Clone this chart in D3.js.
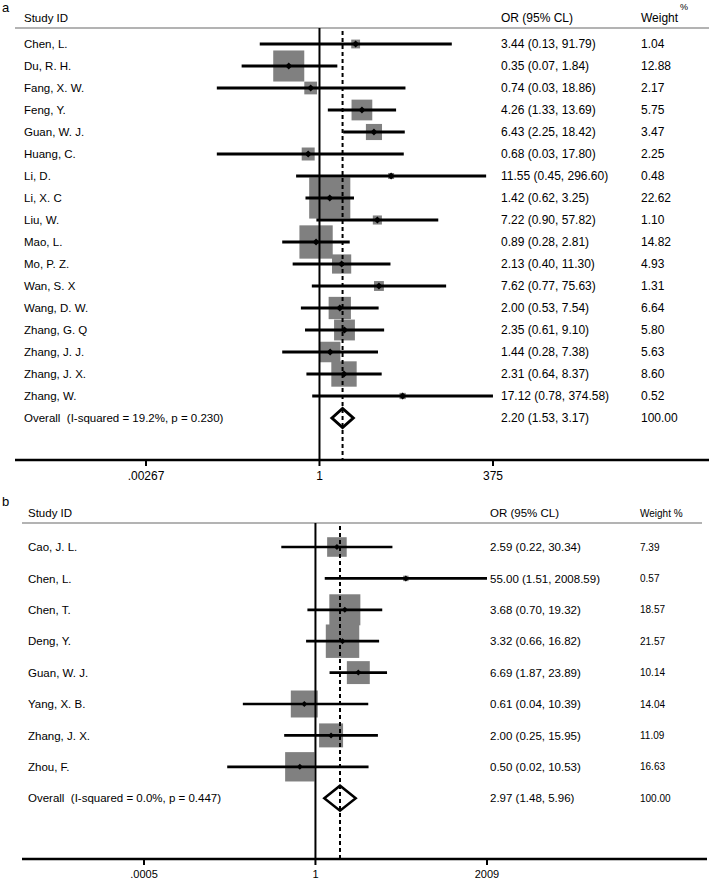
<!DOCTYPE html>
<html>
<head>
<meta charset="utf-8">
<script src="https://cdn.jsdelivr.net/npm/d3@7"></script>
<style>
  body { margin: 0; background: #fff; }
  text { font-family: "Liberation Sans", Arial, sans-serif; fill: #000; white-space: pre; }
</style>
</head>
<body>
<svg id="chart" width="709" height="880"></svg>
<script>
"use strict";

/* global d3 */

// panel a
var studiesA = ["Chen, L.", "Du, R. H.", "Fang, X. W.", "Feng, Y.", "Guan, W. J.", "Huang, C.",
    "Li, D.", "Li, X. C", "Liu, W.", "Mao, L.", "Mo, P. Z.", "Wan, S. X", "Wang, D. W.",
    "Zhang, G. Q", "Zhang, J. J.", "Zhang, J. X.", "Zhang, W."];
var orA    = [3.44, 0.35, 0.74, 4.26, 6.43, 0.68, 11.55, 1.42, 7.22, 0.89, 2.13, 7.62, 2.00, 2.35, 1.44, 2.31, 17.12];
var lowerA = [0.13, 0.07, 0.03, 1.33, 2.25, 0.03, 0.45, 0.62, 0.90, 0.28, 0.40, 0.77, 0.53, 0.61, 0.28, 0.64, 0.78];
var upperA = [91.79, 1.84, 18.86, 13.69, 18.42, 17.80, 296.60, 3.25, 57.82, 2.81, 11.30, 75.63, 7.54, 9.10, 7.38, 8.37, 374.58];
var weightA = [1.04, 12.88, 2.17, 5.75, 3.47, 2.25, 0.48, 22.62, 1.10, 14.82, 4.93, 1.31, 6.64, 5.80, 5.63, 8.60, 0.52];
var overallA = { label: "Overall  (I-squared = 19.2%, p = 0.230)", or: 2.20, lower: 1.53, upper: 3.17, weight: 100 };
var ticksA = [0.00267, 1, 375];
var tickLabelsA = [".00267", "1", "375"];

// panel b
var studiesB = ["Cao, J. L.", "Chen, L.", "Chen, T.", "Deng, Y.", "Guan, W. J.", "Yang, X. B.", "Zhang, J. X.", "Zhou, F."];
var orB    = [2.59, 55.00, 3.68, 3.32, 6.69, 0.61, 2.00, 0.50];
var lowerB = [0.22, 1.51, 0.70, 0.66, 1.87, 0.04, 0.25, 0.02];
var upperB = [30.34, 2008.59, 19.32, 16.82, 23.89, 10.39, 15.95, 10.53];
var weightB = [7.39, 0.57, 18.57, 21.57, 10.14, 14.04, 11.09, 16.63];
var overallB = { label: "Overall  (I-squared = 0.0%, p = 0.447)", or: 2.97, lower: 1.48, upper: 5.96, weight: 100 };
var ticksB = [0.0005, 1, 2009];
var tickLabelsB = [".0005", "1", "2009"];

var svg = d3.select("#chart");

function rows(names, or, lo, hi, w) {
    return names.map(function (n, i) {
        return { label: n, or: or[i], lower: lo[i], upper: hi[i], weight: w[i] };
    });
}

function ciText(d) {
    return d.or.toFixed(2) + " (" + d.lower.toFixed(2) + ", " + d.upper.toFixed(2) + ")";
}

function drawPanel(p) {
    var g = svg.append("g");
    var x = d3.scaleLog().domain([p.ticks[0], p.ticks[2]]).range(p.tickRange);
    var n = p.data.length;
    var y = function (i) { return p.rowTop + i * p.rowStep; };
    var yOverall = y(n);

    // letter and headers
    g.append("text").attr("x", 2).attr("y", p.letterY).style("font-size", "13px").text(p.letter);
    g.append("text").attr("x", p.labelX).attr("y", p.headY).style("font-size", p.font + "px").text("Study ID");
    g.append("text").attr("x", p.orX).attr("y", p.headY).style("font-size", p.orFont + "px").text("OR (95% CL)");
    p.weightHead(g);

    g.append("line")
        .attr("x1", p.lineX[0]).attr("x2", p.lineX[1])
        .attr("y1", p.headLine).attr("y2", p.headLine)
        .attr("stroke", "#9a9a9a").attr("stroke-width", 1.5);

    // weight boxes first, lines over them
    g.selectAll("rect.box").data(p.data).enter().append("rect")
        .attr("class", "box")
        .attr("x", function (d) { return x(d.or) - p.boxK * Math.sqrt(d.weight) / 2; })
        .attr("y", function (d, i) { return y(i) - p.boxK * Math.sqrt(d.weight) / 2; })
        .attr("width", function (d) { return p.boxK * Math.sqrt(d.weight); })
        .attr("height", function (d) { return p.boxK * Math.sqrt(d.weight); })
        .attr("fill", "#808080");

    // null line and overall dashed line
    g.append("line")
        .attr("x1", x(1)).attr("x2", x(1))
        .attr("y1", p.headLine).attr("y2", p.axisY)
        .attr("stroke", "#000").attr("stroke-width", 2);
    g.append("line")
        .attr("x1", x(p.overall.or)).attr("x2", x(p.overall.or))
        .attr("y1", p.headLine + 3).attr("y2", p.axisY)
        .attr("stroke", "#000").attr("stroke-width", 2)
        .attr("stroke-dasharray", "4,3");

    // confidence intervals
    g.selectAll("line.ci").data(p.data).enter().append("line")
        .attr("class", "ci")
        .attr("x1", function (d) { return x(d.lower); })
        .attr("x2", function (d) { return x(d.upper); })
        .attr("y1", function (d, i) { return y(i); })
        .attr("y2", function (d, i) { return y(i); })
        .attr("stroke", "#000").attr("stroke-width", p.ciWidth);

    // point estimates
    g.selectAll("path.pt").data(p.data).enter().append("path")
        .attr("class", "pt")
        .attr("d", function (d, i) {
            var cx = x(d.or), cy = y(i), r = p.ptR;
            return "M" + cx + "," + (cy - r) + "L" + (cx + r) + "," + cy +
                "L" + cx + "," + (cy + r) + "L" + (cx - r) + "," + cy + "Z";
        })
        .attr("fill", "#000");

    // overall diamond
    var o = p.overall;
    g.append("path")
        .attr("d", "M" + x(o.lower) + "," + yOverall +
            "L" + x(o.or) + "," + (yOverall - p.diaH) +
            "L" + x(o.upper) + "," + yOverall +
            "L" + x(o.or) + "," + (yOverall + p.diaH) + "Z")
        .attr("fill", "none").attr("stroke", "#000").attr("stroke-width", p.diaStroke)
        .attr("stroke-linejoin", "miter");

    // text columns
    var all = p.data.concat([o]);
    g.selectAll("text.lab").data(all).enter().append("text")
        .attr("class", "lab")
        .attr("x", p.labelX).attr("y", function (d, i) { return y(i); })
        .attr("dy", "0.36em").style("font-size", p.font + "px")
        .text(function (d) { return d.label; });
    g.selectAll("text.ci").data(all).enter().append("text")
        .attr("class", "ci")
        .attr("x", p.orX).attr("y", function (d, i) { return y(i); })
        .attr("dy", "0.36em").style("font-size", p.orFont + "px")
        .text(ciText);
    g.selectAll("text.wt").data(all).enter().append("text")
        .attr("class", "wt")
        .attr("x", p.wX).attr("y", function (d, i) { return y(i); })
        .attr("dy", "0.36em").style("font-size", p.wFont + "px")
        .text(function (d) { return d.weight.toFixed(2); });

    // axis
    var axis = g.append("g").attr("transform", "translate(0," + p.axisY + ")");
    axis.append("line")
        .attr("x1", p.axisX[0]).attr("x2", p.axisX[1])
        .attr("stroke", "#000").attr("stroke-width", 2.5);
    axis.selectAll("line.tick").data(p.ticks).enter().append("line")
        .attr("class", "tick")
        .attr("x1", x).attr("x2", x).attr("y1", 0).attr("y2", 6)
        .attr("stroke", "#000").attr("stroke-width", 2);
    axis.selectAll("text").data(p.ticks).enter().append("text")
        .attr("x", x).attr("y", p.tickLabelY)
        .attr("text-anchor", "middle").style("font-size", p.tickFont + "px")
        .text(function (d, i) { return p.tickLabels[i]; });
}

drawPanel({
    letter: "a", letterY: 12,
    data: rows(studiesA, orA, lowerA, upperA, weightA), overall: overallA,
    ticks: ticksA, tickLabels: tickLabelsA, tickRange: [146, 493],
    labelX: 24, orX: 501, wX: 641, font: 11.5, orFont: 12, wFont: 12,
    headY: 22, headLine: 28, lineX: [15, 709],
    rowTop: 44, rowStep: 22, axisY: 460, axisX: [15, 709],
    tickLabelY: 20, tickFont: 12,
    boxK: 8.65, ciWidth: 3, ptR: 3.5, diaH: 9.5, diaStroke: 3,
    weightHead: function (g) {
        g.append("text").attr("x", 641).attr("y", 22).style("font-size", "12px").text("Weight");
        g.append("text").attr("x", 680).attr("y", 10).style("font-size", "9px").text("%");
    }
});

drawPanel({
    letter: "b", letterY: 506,
    data: rows(studiesB, orB, lowerB, upperB, weightB), overall: overallB,
    ticks: ticksB, tickLabels: tickLabelsB, tickRange: [144, 487],
    labelX: 28, orX: 490, wX: 640, font: 11.5, orFont: 11.5, wFont: 10,
    headY: 517, headLine: 523, lineX: [22, 702],
    rowTop: 547, rowStep: 31.4, axisY: 859, axisX: [22, 707],
    tickLabelY: 19, tickFont: 11,
    boxK: 7.2, ciWidth: 2.7, ptR: 3, diaH: 12.5, diaStroke: 2.5,
    weightHead: function (g) {
        g.append("text").attr("x", 640).attr("y", 517).style("font-size", "10px").text("Weight %");
    }
});
</script>
</body>
</html>
